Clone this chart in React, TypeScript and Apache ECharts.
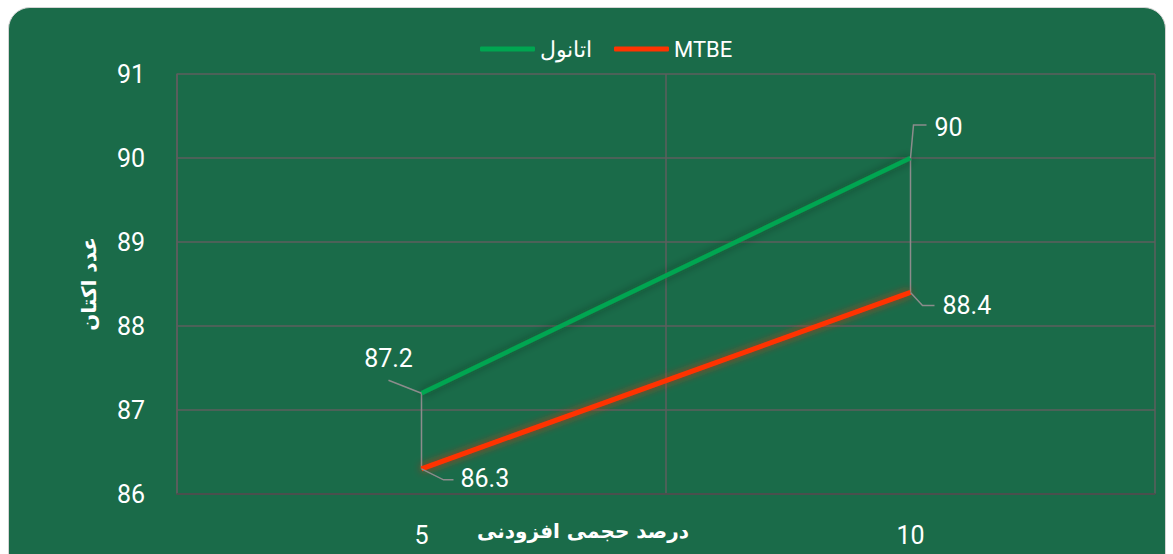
import React, { useEffect, useRef } from "react";
import * as echarts from "echarts";

const categories = ["5", "10"];
const ethanolName = "اتانول";
const mtbeName = "MTBE";
const ethanol = [87.2, 90];
const mtbe = [86.3, 88.4];
const yMin = 86;
const yMax = 91;
const yInterval = 1;
const xAxisTitle = "درصد حجمی افزودنی";
const yAxisTitle = "عدد اکتان";

const NUM_FONT = "Roboto, 'Liberation Sans', sans-serif";
const AR_FONT = "'DejaVu Sans', 'Noto Sans', sans-serif";

// label offsets relative to the data point (pixels)
const ethanolLabelLayout = [
  { pts: [[0, 0], [-33, -13]], text: [-33, -35], align: "center" },
  { pts: [[0, 0], [3, -33], [16, -33]], text: [24, -31], align: "left" },
];
const mtbeLabelLayout = [
  { pts: [[0, 0], [22, 11], [32, 11]], text: [39, 10], align: "left" },
  { pts: [[0, 0], [12, 13], [24, 13]], text: [32, 13], align: "left" },
];

function labelSeries(values: number[], layout: any[]) {
  return {
    type: "custom",
    coordinateSystem: "cartesian2d",
    z: 5,
    silent: true,
    data: values.map((v, i) => [i, v]),
    encode: { x: 0, y: 1 },
    renderItem: (params: any, api: any) => {
      const i = params.dataIndex;
      const p = api.coord([api.value(0), api.value(1)]);
      const l = layout[i];
      return {
        type: "group",
        children: [
          {
            type: "polyline",
            shape: { points: l.pts.map((q: number[]) => [p[0] + q[0], p[1] + q[1]]) },
            style: { stroke: "#8c8c8c", lineWidth: 1.5, fill: null },
          },
          {
            type: "text",
            x: p[0] + l.text[0],
            y: p[1] + l.text[1],
            style: {
              text: String(values[i]),
              fill: "#ffffff",
              font: `25px ${NUM_FONT}`,
              align: l.align,
              verticalAlign: "middle",
            },
          },
        ],
      };
    },
  };
}

export default function App() {
  const ref = useRef<HTMLDivElement>(null);
  useEffect(() => {
    if (!ref.current) return;
    const chart = echarts.init(ref.current, null, { renderer: "svg" });
    chart.setOption({
      animation: false,
      backgroundColor: "transparent",
      grid: { left: 177, right: 18, top: 74, bottom: 60, containLabel: false, outerBoundsMode: "none" },
      legend: {
        top: 33,
        left: 475,
        data: [ethanolName, mtbeName],
        icon: "roundRect",
        itemWidth: 55,
        itemHeight: 5,
        itemGap: 22,
        textStyle: { color: "#ffffff", fontSize: 22, fontFamily: NUM_FONT },
      },
      xAxis: {
        type: "category",
        data: categories,
        boundaryGap: true,
        name: xAxisTitle,
        nameLocation: "middle",
        nameGap: 27,
        nameMoveOverlap: false,
        nameTextStyle: {
          color: "#ffffff",
          fontSize: 20,
          fontWeight: "bold",
          fontFamily: AR_FONT,
          padding: [0, 166, 0, 0],
        },
        axisLine: { show: true, lineStyle: { color: "#4a4a4a", width: 1.5 } },
        axisTick: { show: false },
        axisLabel: { color: "#ffffff", fontSize: 25, fontFamily: NUM_FONT, margin: 29 },
        splitLine: { show: true, interval: 0, lineStyle: { color: "#5e5e5e", width: 1.5 } },
      },
      yAxis: {
        type: "value",
        min: yMin,
        max: yMax,
        interval: yInterval,
        name: yAxisTitle,
        nameLocation: "middle",
        nameRotate: 90,
        nameGap: 78,
        nameMoveOverlap: false,
        nameTextStyle: { color: "#ffffff", fontSize: 20, fontWeight: "bold", fontFamily: AR_FONT },
        axisLine: { show: true, lineStyle: { color: "#5e5e5e", width: 1.5 } },
        axisTick: { show: false },
        axisLabel: { color: "#ffffff", fontSize: 25, fontFamily: NUM_FONT, margin: 32 },
        splitLine: { show: true, lineStyle: { color: "#5e5e5e", width: 1.5 } },
      },
      series: [
        {
          type: "custom",
          coordinateSystem: "cartesian2d",
          z: 1,
          silent: true,
          data: categories.map((c, i) => [i, ethanol[i], mtbe[i]]),
          encode: { x: 0, y: [1, 2] },
          renderItem: (params: any, api: any) => {
            const a = api.coord([api.value(0), api.value(1)]);
            const b = api.coord([api.value(0), api.value(2)]);
            return {
              type: "line",
              shape: { x1: a[0], y1: a[1], x2: b[0], y2: b[1] },
              style: { stroke: "#8c8c8c", lineWidth: 1.5 },
            };
          },
        },
        {
          name: ethanolName,
          type: "line",
          data: ethanol,
          showSymbol: false,
          z: 3,
          itemStyle: { color: "#00a651" },
          lineStyle: {
            color: "#00a651",
            width: 4.5,
            shadowColor: "rgba(0,40,20,0.45)",
            shadowBlur: 10,
          },
        },
        {
          name: mtbeName,
          type: "line",
          data: mtbe,
          showSymbol: false,
          z: 3,
          itemStyle: { color: "#ff3300" },
          lineStyle: {
            color: "#ff3300",
            width: 5,
            shadowColor: "rgba(255,40,0,0.75)",
            shadowBlur: 9,
          },
        },
        labelSeries(ethanol, ethanolLabelLayout),
        labelSeries(mtbe, mtbeLabelLayout),
      ],
    });
    return () => chart.dispose();
  }, []);
  return (
    <div style={{ position: "absolute", left: 0, top: 0, width: 1173, height: 554, overflow: "hidden", background: "#ffffff" }}>
      <div
        style={{
          position: "absolute",
          left: 8,
          top: 7,
          width: 1158,
          height: 580,
          borderRadius: 22,
          background: "#1a6b49",
          border: "1.5px solid #d4d4d4",
          boxSizing: "border-box",
        }}
      />
      <div ref={ref} style={{ position: "absolute", left: 0, top: 0, width: 1173, height: 554 }} />
    </div>
  );
}
